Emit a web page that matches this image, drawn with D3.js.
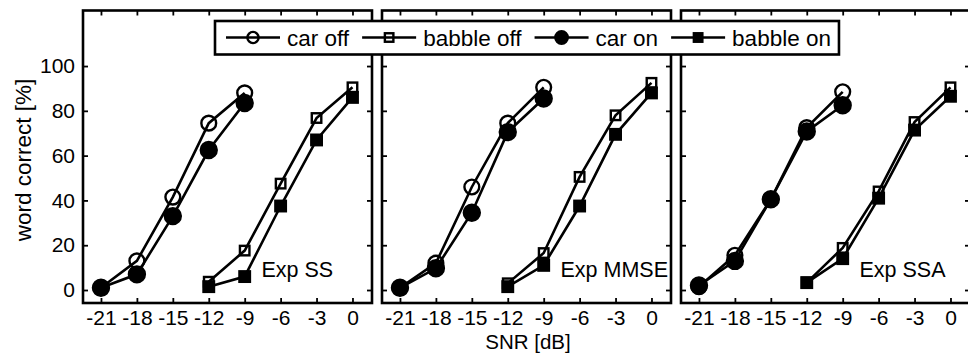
<!DOCTYPE html>
<html>
<head>
<meta charset="utf-8">
<script src="https://cdn.jsdelivr.net/npm/d3@7"></script>
<style>
  html, body { margin: 0; padding: 0; background: #fff; }
  svg { display: block; font-family: "Liberation Sans", Arial, sans-serif; }
</style>
</head>
<body>
<svg id="chart" width="968" height="354"></svg>
<script>
// ---- data ----
const snrCar = [-21, -18, -15, -12, -9];
const snrBabble = [-12, -9, -6, -3, 0];
const panelNames = ["Exp SS", "Exp MMSE", "Exp SSA"];
const xTickValues = [-21, -18, -15, -12, -9, -6, -3, 0];
const yTickValues = [0, 20, 40, 60, 80, 100];
const legendLabels = ["car off", "babble off", "car on", "babble on"];

// Exp SS
const ssCarOff     = [1, 13, 41.5, 74.5, 88];
const ssBabbleOff  = [3.7, 17.6, 47.5, 76.8, 90.5];
const ssCarOn      = [1, 7, 33, 62.5, 83.5];
const ssBabbleOn   = [1.5, 6, 37.5, 67, 86];
// Exp MMSE
const mmseCarOff    = [1, 12, 46, 74.5, 90.5];
const mmseBabbleOff = [3, 16.5, 50.5, 78, 92.5];
const mmseCarOn     = [1, 9.7, 34.5, 70.5, 85.5];
const mmseBabbleOn  = [1.5, 11, 37.5, 69.5, 88];
// Exp SSA
const ssaCarOff    = [1.5, 15.5, 40.5, 72.5, 88.5];
const ssaBabbleOff = [3.3, 18.8, 44, 75, 90.5];
const ssaCarOn     = [2, 13, 40.5, 70.8, 82.5];
const ssaBabbleOn  = [3.3, 14, 41, 71.4, 86.5];

const panelSeries = [
  [ssCarOff, ssBabbleOff, ssCarOn, ssBabbleOn],
  [mmseCarOff, mmseBabbleOff, mmseCarOn, mmseBabbleOn],
  [ssaCarOff, ssaBabbleOff, ssaCarOn, ssaBabbleOn]
];

// ---- layout ----
const svg = d3.select("#chart");
const panelLefts = [83, 382, 681];
const pW = 289, pTop = 10.5, pBottom = 303;
const y = d3.scaleLinear().domain([-5.8, 124.8]).range([pBottom, pTop]);

const styles = [
  {shape: "circle", filled: false},
  {shape: "square", filled: false},
  {shape: "circle", filled: true},
  {shape: "square", filled: true}
];

function drawMarker(g, shape, filled, cx, cy, big) {
  if (shape === "circle") {
    const r = big ? (filled ? 8 : 7.4) : (filled ? 6.2 : 5.6);
    g.append("circle").attr("cx", cx).attr("cy", cy).attr("r", r)
      .attr("fill", filled ? "#000" : "none")
      .attr("stroke", "#000").attr("stroke-width", 2.4);
  } else {
    const s = big ? (filled ? 10.5 : 9.5) : 8.5;
    g.append("rect").attr("x", cx - s/2).attr("y", cy - s/2)
      .attr("width", s).attr("height", s)
      .attr("fill", filled ? "#000" : "none")
      .attr("stroke", "#000").attr("stroke-width", 2.4);
  }
}

panelLefts.forEach((left, pi) => {
  const x = d3.scaleLinear().domain([-22.5, 1.63]).range([left, left + pW]);
  const g = svg.append("g");

  const bottomAxis = d3.axisBottom(x).tickValues(xTickValues).tickSize(-5).tickPadding(7)
    .tickFormat(d => d);
  const topAxis = d3.axisTop(x).tickValues(xTickValues).tickSize(-5).tickFormat("");
  const leftAxis = d3.axisLeft(y).tickValues(yTickValues).tickSize(-5).tickPadding(8);
  const rightAxis = d3.axisRight(y).tickValues(yTickValues).tickSize(-5).tickFormat("");

  const gb = g.append("g").attr("transform", `translate(0,${pBottom})`).call(bottomAxis);
  const gt = g.append("g").attr("transform", `translate(0,${pTop})`).call(topAxis);
  const gl = g.append("g").attr("transform", `translate(${left},0)`).call(leftAxis);
  const gr = g.append("g").attr("transform", `translate(${left + pW},0)`).call(rightAxis);
  [gb, gt, gl, gr].forEach(a => {
    a.select(".domain").remove();
    a.selectAll(".tick line").attr("stroke", "#000").attr("stroke-width", 1.8);
    a.selectAll("text").attr("font-size", 21).attr("fill", "#000")
      .attr("font-family", "Liberation Sans, Arial, sans-serif");
  });
  gb.selectAll("text").attr("dy", "0.71em");
  if (pi !== 0) gl.selectAll("text").remove();

  g.append("rect").attr("x", left).attr("y", pTop).attr("width", pW)
    .attr("height", pBottom - pTop).attr("fill", "none")
    .attr("stroke", "#000").attr("stroke-width", 2.6);

  const series = panelSeries[pi];
  series.forEach((vals, si) => {
    const xs = (si % 2 === 0) ? snrCar : snrBabble;
    const pts = xs.map((v, i) => [x(v), y(vals[i])]);
    g.append("path").attr("d", d3.line()(pts))
      .attr("fill", "none").attr("stroke", "#000").attr("stroke-width", 2.6);
    pts.forEach(p => drawMarker(g, styles[si].shape, styles[si].filled, p[0], p[1], true));
  });

  g.append("text").attr("x", x(-7.6)).attr("y", 277)
    .attr("font-size", 21.5).attr("fill", "#000").text(panelNames[pi]);
});

svg.append("text")
  .attr("transform", "translate(31,160) rotate(-90)")
  .attr("text-anchor", "middle").attr("font-size", 22.5).attr("fill", "#000")
  .text("word correct [%]");

svg.append("text").attr("x", 528).attr("y", 349)
  .attr("text-anchor", "middle").attr("font-size", 20.5).attr("fill", "#000")
  .text("SNR [dB]");

// legend
const lg = svg.append("g");
const lgBox = lg.append("rect").attr("x", 215).attr("y", 21).attr("width", 626).attr("height", 33.5)
  .attr("fill", "#fff").attr("stroke", "#000").attr("stroke-width", 2.6);
let cursor = 226;
const lcy = 37.5;
legendLabels.forEach((lab, i) => {
  lg.append("line").attr("x1", cursor).attr("x2", cursor + 54)
    .attr("y1", lcy).attr("y2", lcy).attr("stroke", "#000").attr("stroke-width", 2.4);
  drawMarker(lg, styles[i].shape, styles[i].filled, cursor + 27, lcy, false);
  const t = lg.append("text").attr("x", cursor + 61).attr("y", 45.5)
    .attr("font-size", 22.5).attr("fill", "#000").text(lab);
  const w = t.node().getComputedTextLength();
  cursor = cursor + 61 + w + 13;
});
lgBox.attr("width", cursor - 13 + 8 - 215);
</script>
</body>
</html>
